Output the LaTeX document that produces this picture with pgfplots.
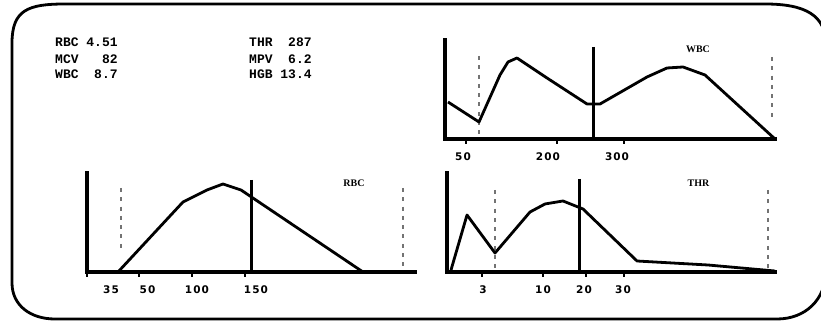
\documentclass[border=0pt]{standalone}
\usepackage{fontspec}
\usepackage{pgfplots}
\pgfplotsset{compat=1.18}
\newfontfamily\datafont{Liberation Mono}
\newfontfamily\tickfont{DejaVu Sans}[LetterSpace=10]
\newfontfamily\labfont{Liberation Serif}
\newcommand{\s}{\phantom{0}}
\pgfplotsset{
  hist/.style={
    scale only axis,
    axis x line=bottom, axis y line=left,
    axis line style={line width=3.2pt,-,line cap=rect,black},
    ytick=\empty, clip=false,
    tick align=outside, major tick length=5pt,
    tick style={line width=1.4pt,black},
    xticklabels={},
    tick label style={font=\tickfont\bfseries\fontsize{10.5}{11}\selectfont},
    extra x tick style={major tick length=0pt, tick style={draw=none},
      tick label style={anchor=center, yshift=-18pt}},
  },
  curve/.style={black, line width=2.8pt, line join=round},
  ref/.style={black!55, line width=1.3pt, dash pattern=on 4pt off 5.3pt},
}
\begin{document}
\begin{tikzpicture}[x=1pt,y=1pt]
\path[use as bounding box] (0,0) rectangle (821,321);
\clip (0,0) rectangle (821,321);
% frame
\draw[line width=2.8pt, line join=round]
  (12,278) -- (12,38) .. controls (12,16) and (30,2) .. (55,2)
  -- (777,2) .. controls (805,2) and (826,21) .. (826,51)
  -- (826,276) .. controls (826,306) and (805,317) .. (765,317)
  -- (65,317) .. controls (28,317) and (12,311) .. (12,278) -- cycle;
% readings
\begin{scope}[every node/.style={anchor=base west, inner sep=0pt,
    font=\datafont\bfseries\fontsize{13}{15}\selectfont}]
\node at (55,274.3) {RBC 4.51};
\node at (55,257.7) {MCV\s\s\s82};
\node at (55,242.7) {WBC\s\s8.7};
\node at (249,274.3) {THR\s\s287};
\node at (249,257.7) {MPV\s\s6.2};
\node at (249,242.7) {HGB 13.4};
\end{scope}
% WBC
\begin{axis}[hist, at={(445pt,182pt)}, anchor=south west,
  width=330pt, height=99pt, xmin=445, xmax=775, ymin=182, ymax=281,
  xtick={466,557,624},
  extra x ticks={463,548,617}, extra x tick labels={50,200,300}]
\addplot[ref] coordinates {(479,265) (479,183)};
\addplot[ref] coordinates {(772,264) (772,200)};
\addplot[curve] coordinates {(448,219) (479,199) (500,246) (508,259) (517,263)
  (547,243) (587,217) (600,217) (647,244) (667,253) (683,254) (705,246) (775,182)};
\addplot[black, line width=3pt, line cap=butt] coordinates {(593,274) (593,182)};
\node[font=\labfont\bfseries\fontsize{10}{11}\selectfont] at (axis cs:698,272) {WBC};
\end{axis}
% RBC
\begin{axis}[hist, at={(87pt,49pt)}, anchor=south west,
  width=328pt, height=99pt, xmin=87, xmax=415, ymin=49, ymax=148,
  xtick={87,139,192,245},
  extra x ticks={111,147.5,197,256}, extra x tick labels={35,50,100,150}]
\addplot[ref] coordinates {(121,133) (121,69)};
\addplot[ref] coordinates {(403,133) (403,50)};
\addplot[curve] coordinates {(118,49) (183,119) (207,131) (223,137) (241,131) (363,49)};
\addplot[black, line width=3pt, line cap=butt] coordinates {(251,141) (251,49)};
\node[font=\labfont\bfseries\fontsize{10}{11}\selectfont] at (axis cs:354,138) {RBC};
\end{axis}
% THR
\begin{axis}[hist, at={(447pt,49pt)}, anchor=south west,
  width=328pt, height=99pt, xmin=447, xmax=775, ymin=49, ymax=148,
  xtick={482,543,586,624},
  extra x ticks={483,543,584,623}, extra x tick labels={3,10,20,30}]
\addplot[ref] coordinates {(495,131) (495,51)};
\addplot[ref] coordinates {(768,131) (768,50)};
\addplot[curve] coordinates {(451,51) (467,106) (495,68) (530,109) (545,117)
  (563,120) (583,112) (637,60) (708,56) (775,50)};
\addplot[black, line width=3pt, line cap=butt] coordinates {(579,142) (579,49)};
\node[font=\labfont\bfseries\fontsize{10}{11}\selectfont] at (axis cs:698.5,138) {THR};
\end{axis}
\end{tikzpicture}
\end{document}
